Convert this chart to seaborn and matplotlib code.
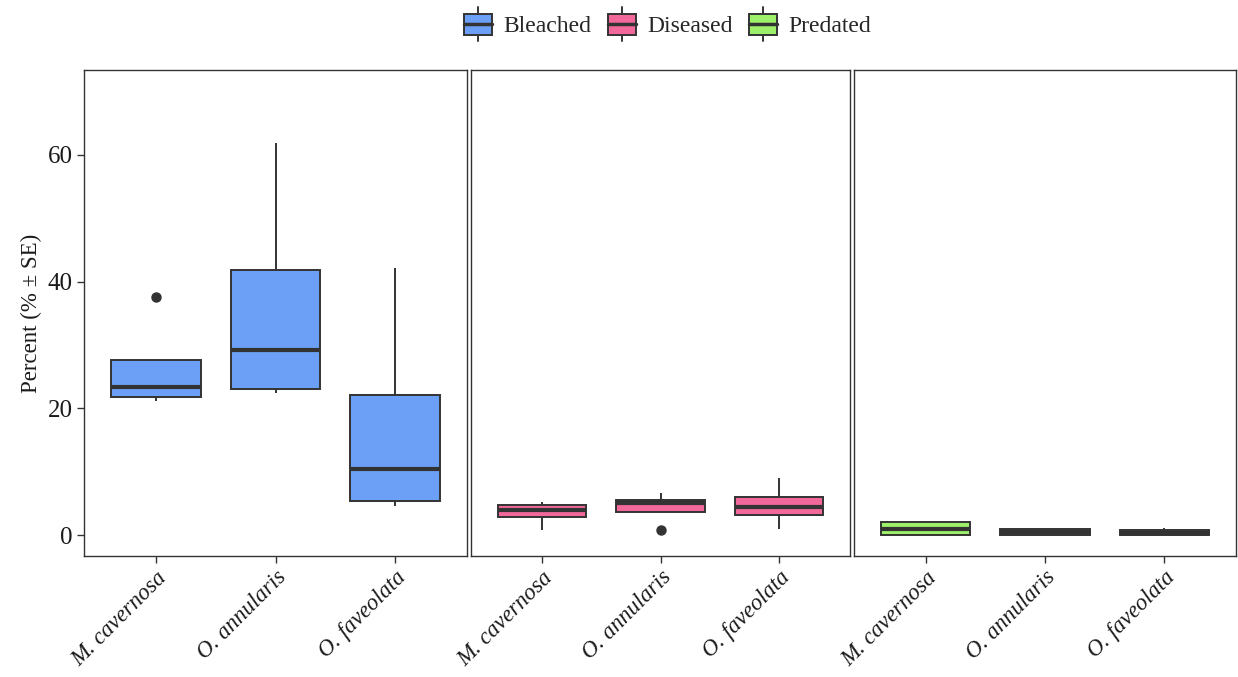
import numpy as np
import pandas as pd
import seaborn as sns
import matplotlib.pyplot as plt
from matplotlib.patches import Patch, Rectangle
from matplotlib.lines import Line2D
from matplotlib.legend_handler import HandlerBase

# --- style ---
sns.set_theme(style="white")
plt.rcParams['font.family'] = ['Liberation Serif', 'DejaVu Serif']

# --- data (5 sites per species) ---
species = ["M. cavernosa", "O. annularis", "O. faveolata"]
conditions = ["Bleached", "Diseased", "Predated"]
colors = ["#6CA0F6", "#F2689A", "#9CF06A"]

bleached = [[21.2, 21.8, 23.3, 27.7, 37.5],
            [22.5, 23.0, 29.2, 41.8, 61.9],
            [4.6, 5.4, 10.5, 22.1, 42.1]]
diseased = [[0.8, 2.9, 4.0, 4.7, 5.3],
            [0.8, 3.7, 5.0, 5.5, 6.7],
            [1.0, 3.1, 4.5, 6.0, 9.0]]
predated = [[0.0, 0.0, 1.0, 2.0, 2.0],
            [0.0, 0.0, 0.45, 0.9, 0.9],
            [0.0, 0.0, 0.4, 0.8, 1.05]]

rows = []
for cond, vals in zip(conditions, [bleached, diseased, predated]):
    for sp, v in zip(species, vals):
        for x in v:
            rows.append({"condition": cond, "species": sp, "value": x})
df = pd.DataFrame(rows)

edge = "#333333"
txt = "#1a1a1a"

fig = plt.figure(figsize=(12.38, 6.77), dpi=100)
lefts = [84, 471, 854]
rights = [467, 850, 1236]
W, H = 1238, 677
top, bottom = 70, 556

axes = []
for i, cond in enumerate(conditions):
    ax = fig.add_axes([lefts[i] / W, 1 - bottom / H,
                       (rights[i] - lefts[i]) / W, (bottom - top) / H])
    sub = df[df["condition"] == cond]
    sns.boxplot(data=sub, x="species", y="value", order=species,
                color=colors[i], saturation=1, width=0.75, ax=ax,
                linewidth=1.4, linecolor=edge, whis=1.5, fliersize=6.5,
                medianprops=dict(linewidth=3.0, color=edge),
                capprops=dict(linewidth=0),
                flierprops=dict(marker="o", markerfacecolor=edge,
                                markeredgecolor=edge))
    ax.set_xlim(-0.6, 2.6)
    ax.set_ylim(-3.3, 73.4)
    ax.set_yticks([0, 20, 40, 60])
    ax.set_xlabel("")
    for s in ax.spines.values():
        s.set_visible(True)
        s.set_color(edge)
        s.set_linewidth(1.0)
    ax.tick_params(axis="x", bottom=True, length=5, width=1, color=edge,
                   labelsize=16.5, labelcolor=txt, pad=3)
    ax.set_xticks(range(3))
    ax.set_xticklabels(species, rotation=45, ha="right",
                       rotation_mode="anchor", style="italic")
    if i == 0:
        ax.tick_params(axis="y", left=True, length=5, width=1, color=edge,
                       labelsize=18, labelcolor=txt, pad=3)
        ax.set_ylabel("Percent (% ± SE)", fontsize=16.5, color=txt)
    else:
        ax.set_yticks([])
        ax.set_ylabel("")
    axes.append(ax)


class BoxHandler(HandlerBase):
    def create_artists(self, legend, orig_handle, xdescent, ydescent,
                       width, height, fontsize, trans):
        w = width * 0.95
        x0 = xdescent + (width - w) / 2
        h = height * 1.0
        y0 = -ydescent + (height - h) / 2
        box = Rectangle((x0, y0), w, h, facecolor=orig_handle.get_facecolor(),
                        edgecolor=edge, linewidth=1.4, transform=trans)
        med = Line2D([x0, x0 + w], [y0 + h / 2] * 2, color=edge, lw=2.5,
                     transform=trans)
        xm = x0 + w / 2
        wt = Line2D([xm, xm], [y0 + h, y0 + h + height * 0.3], color=edge,
                    lw=1.4, transform=trans)
        wb = Line2D([xm, xm], [y0, y0 - height * 0.3], color=edge, lw=1.4,
                    transform=trans)
        return [wt, wb, box, med]


handles = [Patch(facecolor=c, label=n) for c, n in zip(colors, conditions)]
fig.legend(handles=handles, handler_map={Patch: BoxHandler()},
           loc="upper center", bbox_to_anchor=(0.539, 1.011), ncol=3,
           frameon=False, fontsize=17, handlelength=1.25, handleheight=1.0,
           handletextpad=0.45, columnspacing=0.65)

fig.savefig("out.png", dpi=100)
